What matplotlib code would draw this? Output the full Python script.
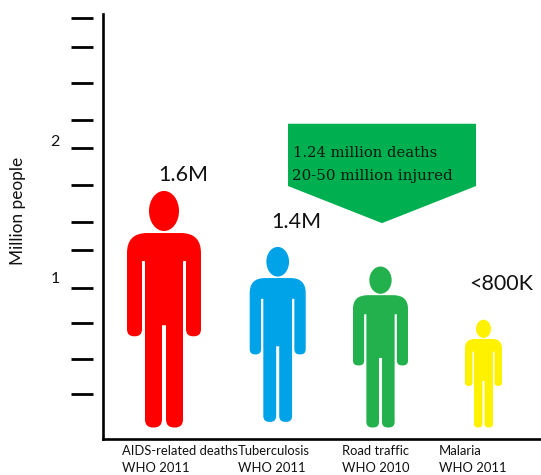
import matplotlib
matplotlib.use('Agg')
import matplotlib.pyplot as plt
import numpy as np
from matplotlib.patches import Ellipse, PathPatch, Polygon
from matplotlib.path import Path

W, H = 541, 475

# values
causes = ['AIDS-related deaths', 'Tuberculosis', 'Road traffic', 'Malaria']
sources = ['WHO 2011', 'WHO 2011', 'WHO 2010', 'WHO 2011']
value_labels = ['1.6M', '1.4M', '', '<800K']
person_x = [0, 1.137, 2.165, 3.195]
person_base = [0, 0.04, 0, 0]
person_height = [1.69, 1.25, 1.15, 0.77]
person_width = [0.74, 0.56, 0.55, 0.37]
colors = ['#FF0000', '#00A2E8', '#22B14C', '#FFF200']
tick_values = [0.24, 0.49, 0.75, 1.0, 1.27, 1.47, 1.73, 2.0, 2.2, 2.46, 2.72, 2.925]

# silhouette template: half width 37, height 236, (u, v, corner radius)
half = [(37, 194, 20), (37, 91, 7), (22, 91, 7), (22, 166, 0), (19, 166, 0),
        (19, 0, 8), (2, 0, 8), (2, 102, 0)]
outline = half + [(-u, v, r) for u, v, r in reversed(half)]


def rounded_path(pts):
    verts, codes = [], []
    n = len(pts)
    for i, (u, v, r) in enumerate(pts):
        p = np.array([u, v], float)
        prev = np.array(pts[i - 1][:2], float)
        nxt = np.array(pts[(i + 1) % n][:2], float)
        if r == 0:
            verts.append(p)
            codes.append(Path.LINETO)
            continue
        a = p + (prev - p) / np.linalg.norm(prev - p) * r
        b = p + (nxt - p) / np.linalg.norm(nxt - p) * r
        verts += [a, p, b]
        codes += [Path.LINETO, Path.CURVE3, Path.CURVE3]
    codes[0] = Path.MOVETO
    verts.append(verts[0])
    codes.append(Path.CLOSEPOLY)
    return np.array(verts), codes


def draw_person(ax, x, base, height, width, color):
    verts, codes = rounded_path(outline)
    sx = width / 74
    sy = height / 236
    pts = np.column_stack([x + verts[:, 0] * sx, base + verts[:, 1] * sy])
    ax.add_patch(PathPatch(Path(pts, codes), facecolor=color, edgecolor='none'))
    ax.add_patch(Ellipse((x, base + 216 * sy), 30 * sx, 40 * sy, facecolor=color, edgecolor='none'))


def ftext(px, py, s, **kw):
    return fig.text(px / W, 1 - py / H, s, **kw)


plt.rcParams['font.family'] = ['Lato', 'DejaVu Sans']

fig = plt.figure(figsize=(W / 100, H / 100), dpi=100)
ax = fig.add_axes([103 / W, (H - 438.7) / H, (W - 103) / W, (438.7 - 14) / H])
ax.set_xlim(-0.61, 3.77)
ax.set_ylim(-0.08, 2.954)
for s in ['top', 'right']:
    ax.spines[s].set_visible(False)
for s in ['left', 'bottom']:
    ax.spines[s].set_linewidth(1.9)
ax.set_xticks([])
ax.set_yticks([])

# ticks stand apart from the axis line
ax.hlines(tick_values, -0.93, -0.71, color='black', linewidth=2.0, clip_on=False)

for i in range(len(causes)):
    draw_person(ax, person_x[i], person_base[i], person_height[i], person_width[i], colors[i])

# banner arrow
ax.add_patch(Polygon([(1.24, 2.17), (3.12, 2.17), (3.12, 1.725), (2.18, 1.46), (1.24, 1.725)],
                     closed=True, facecolor='#00B050', edgecolor='none'))
ftext(293, 153, '1.24 million deaths', family='DejaVu Serif', fontsize=10.6, va='center', color='#0b1a10')
ftext(292, 176, '20-50 million injured', family='DejaVu Serif', fontsize=10.9, va='center', color='#0b1a10')

ftext(183, 175, value_labels[0], fontsize=15.5, ha='center', va='center', color='#111111')
ftext(296, 222, value_labels[1], fontsize=15.5, ha='center', va='center', color='#111111')
ftext(501, 284, value_labels[3], fontsize=15.5, ha='center', va='center', color='#111111')

ftext(55, 142, '2', fontsize=11.5, ha='center', va='center', color='#111111')
ftext(55, 279, '1', fontsize=11.5, ha='center', va='center', color='#111111')
ftext(18, 211, 'Million people', fontsize=12.4, rotation=90, ha='center', va='center', color='#111111')

label_x = [122, 238, 342, 439]
for i in range(len(causes)):
    ftext(label_x[i], 451, causes[i], fontsize=9.4, va='center', color='#111111')
    ftext(label_x[i], 468, sources[i], fontsize=9.4, va='center', color='#111111')

fig.savefig('out.png', dpi=100)
